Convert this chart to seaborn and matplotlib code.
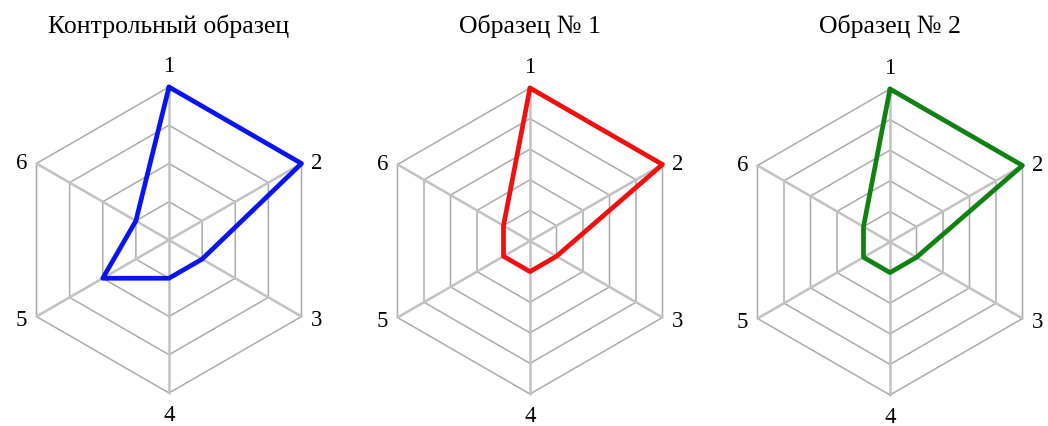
import numpy as np
import pandas as pd
import matplotlib
matplotlib.use("Agg")
import matplotlib.pyplot as plt
import seaborn as sns

### data
axis_labels = ["1", "2", "3", "4", "5", "6"]
titles = ["Контрольный образец", "Образец № 1", "Образец № 2"]
control = [4, 4, 1, 1, 2, 1]
sample1 = [5, 5, 1, 1, 1, 1]
sample2 = [5, 5, 1, 1, 1, 1]
levels = [4, 5, 5]
colors = ["#0a14f0", "#f01010", "#118211"]

sns.set_theme(style="white")
plt.rcParams["font.family"] = ["Liberation Serif", "DejaVu Serif"]
plt.rcParams["text.color"] = "black"

W, H = 1048, 426
fig = plt.figure(figsize=(W / 100, H / 100), dpi=100)

centers = [(169, 240), (530, 241), (890, 242)]
R = 153
L = 1.3
angles = np.deg2rad(np.arange(6) * 60)

def radar(i, vals, nlev, color):
  cx, cy = centers[i]
  half = L * R
  ax = fig.add_axes([(cx - half) / W, 1 - (cy + half) / H, 2 * half / W, 2 * half / H])

  # hexagon grid
  for k in range(1, nlev + 1):
    r = k / nlev
    gx = list(r * np.sin(angles)) + [0]
    gy = list(r * np.cos(angles)) + [r]
    gx[-1] = gx[0]
    ax.plot(gx, gy, color="#ababab", lw=1.1, zorder=1)
  for a in angles:
    ax.plot([0, np.sin(a)], [0, np.cos(a)], color="#c2c2c2", lw=1.8, zorder=1)

  # data line
  r = np.array(vals + [vals[0]]) / nlev
  ang = np.append(angles, angles[0])
  df = pd.DataFrame({"x": r * np.sin(ang), "y": r * np.cos(ang)})
  sns.lineplot(data=df, x="x", y="y", sort=False, estimator=None, color=color,
               lw=3.4, ax=ax, zorder=3, solid_joinstyle="round")
  ax.set_xlim(-L, L)
  ax.set_ylim(-L, L)
  ax.set_axis_off()

  # axis labels
  offs = [(0, 0.135), (0.1, 0.0), (0.1, -0.025), (0, -0.145), (-0.1, -0.025), (-0.1, 0.0)]
  for lab, a, (dx, dy) in zip(axis_labels, angles, offs):
    ax.text(np.sin(a) + dx, np.cos(a) + dy, lab, ha="center", va="center",
            fontsize=16.5, color="black")

  fig.text(cx / W, 1 - 26 / H, titles[i], ha="center", va="center",
           fontsize=18.5, color="black")

for i, vals in enumerate([control, sample1, sample2]):
  radar(i, vals, levels[i], colors[i])

fig.savefig("out.png", dpi=100, facecolor="white")
